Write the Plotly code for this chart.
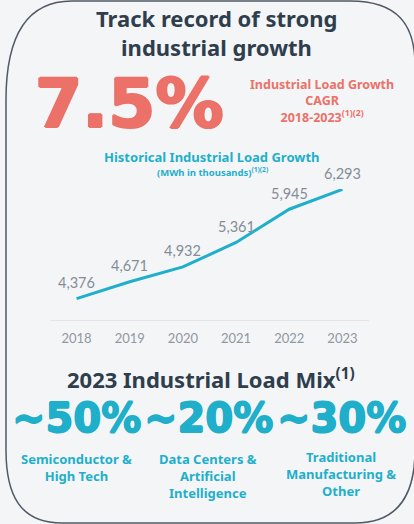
import plotly.graph_objects as go

# ---- data ----
years = [2018, 2019, 2020, 2021, 2022, 2023]
load_mwh_k = [4376, 4671, 4932, 5361, 5945, 6293]
cagr_value = "7.5%"
mix_values = ["~50%", "~20%", "~30%"]
mix_labels = ["Semiconductor &<br>High Tech",
              "Data Centers &<br>Artificial<br>Intelligence",
              "Traditional<br>Manufacturing &<br>Other"]

W, H = 414, 524
BG = "#f4f5f6"
DARK = "#2f3e4d"
SALMON = "#eb7169"
TEAL = "#1fafcb"
GRAY = "#838d97"
TXT = "'Noto Sans', Lato, sans-serif"
LIGHT = "Lato, 'Open Sans', sans-serif"
NUM = "'DejaVu Sans', sans-serif"


def px(x):
    return x / W


def py(y):
    return 1 - y / H


def heavy(color, d):
    return ", ".join(f"{a}px {b}px 0 {color}" for a, b in
                     [(d, 0), (-d, 0), (0, d), (0, -d)])


fig = go.Figure()
fig.add_trace(go.Scatter(
    x=years, y=load_mwh_k,
    mode="lines",
    line=dict(color=TEAL, width=3),
    hoverinfo="skip",
))

ann = []

# data labels above each point
for yr, v in zip(years, load_mwh_k):
    ann.append(dict(
        text=f"{v:,}", x=yr, y=v, xref="x", yref="y",
        xanchor="center", yanchor="middle", yshift=16, showarrow=False,
        font=dict(family=LIGHT, size=14.5, color=GRAY),
    ))


def add(text, x, y, size, color, family=TXT, bold=True, shadow=None):
    f = dict(family=family, size=size, color=color)
    if shadow:
        f["shadow"] = shadow
    ann.append(dict(
        text=f"<b>{text}</b>" if bold else text,
        x=px(x), y=py(y), xref="paper", yref="paper",
        xanchor="center", yanchor="middle", showarrow=False,
        font=f, align="center",
    ))


add("Track record of strong", 216, 18, 22, DARK)
add("industrial growth", 216, 47, 22, DARK)
add(cagr_value, 129, 103, 68, SALMON, family=NUM, shadow=heavy(SALMON, 1.2))
add("Industrial Load Growth<br>CAGR<br>2018-2023<sup>(1)(2)</sup>", 322, 101, 12.5, SALMON)
add("Historical Industrial Load Growth", 211, 157, 13, TEAL)
add("(MWh in thousands)<sup>(1)(2)</sup>", 213, 172, 9.5, TEAL)
add("2023 Industrial Load Mix<sup>(1)</sup>", 211, 378, 22, DARK)

value_x = [76, 208, 341]
label_y = [467.5, 476, 473.5]
for v, lab, xc, ly in zip(mix_values, mix_labels, value_x, label_y):
    add(v, xc, 418, 40, TEAL, family=NUM, shadow=heavy(TEAL, 0.8))
    add(lab, xc, ly, 13, TEAL)

# rounded border
pts = [
    ("M", (6, 100)), ("L", (6, 450)),
    ("C", (6, 495), (20, 523), (62, 523)),
    ("L", (355, 523)),
    ("C", (398, 523), (415, 495), (415, 450)),
    ("L", (415, 65)),
    ("C", (415, 25), (398, 1), (350, 1)),
    ("L", (72, 1)),
    ("C", (28, 1), (6, 35), (6, 100)),
]
path = ""
for item in pts:
    cmd = item[0]
    coords = " ".join(f"{px(a):.5f},{py(b):.5f}" for a, b in item[1:])
    path += f"{cmd} {coords} "
path += "Z"

fig.update_layout(
    width=W, height=H,
    margin=dict(l=0, r=0, t=0, b=0),
    paper_bgcolor=BG, plot_bgcolor=BG,
    showlegend=False,
    annotations=ann,
    shapes=[dict(type="path", path=path, xref="paper", yref="paper",
                 line=dict(color="#4f5a66", width=1.5), fillcolor="rgba(0,0,0,0)",
                 layer="below")],
    xaxis=dict(
        domain=[px(50), px(369)],
        range=[2017.5, 2023.5],
        tickmode="array", tickvals=years, ticktext=[str(y) for y in years],
        showgrid=False, zeroline=False,
        showline=True, linecolor="#e2e4e6", linewidth=1,
        ticks="", tickfont=dict(family=LIGHT, size=13, color="#8e98a2"),
        ticklabelstandoff=6,
        fixedrange=True,
    ),
    yaxis=dict(
        domain=[py(320), py(189)],
        range=[4000, 6300],
        showgrid=False, zeroline=False, showline=False,
        showticklabels=False, fixedrange=True,
    ),
)

fig.write_html("out.html")
